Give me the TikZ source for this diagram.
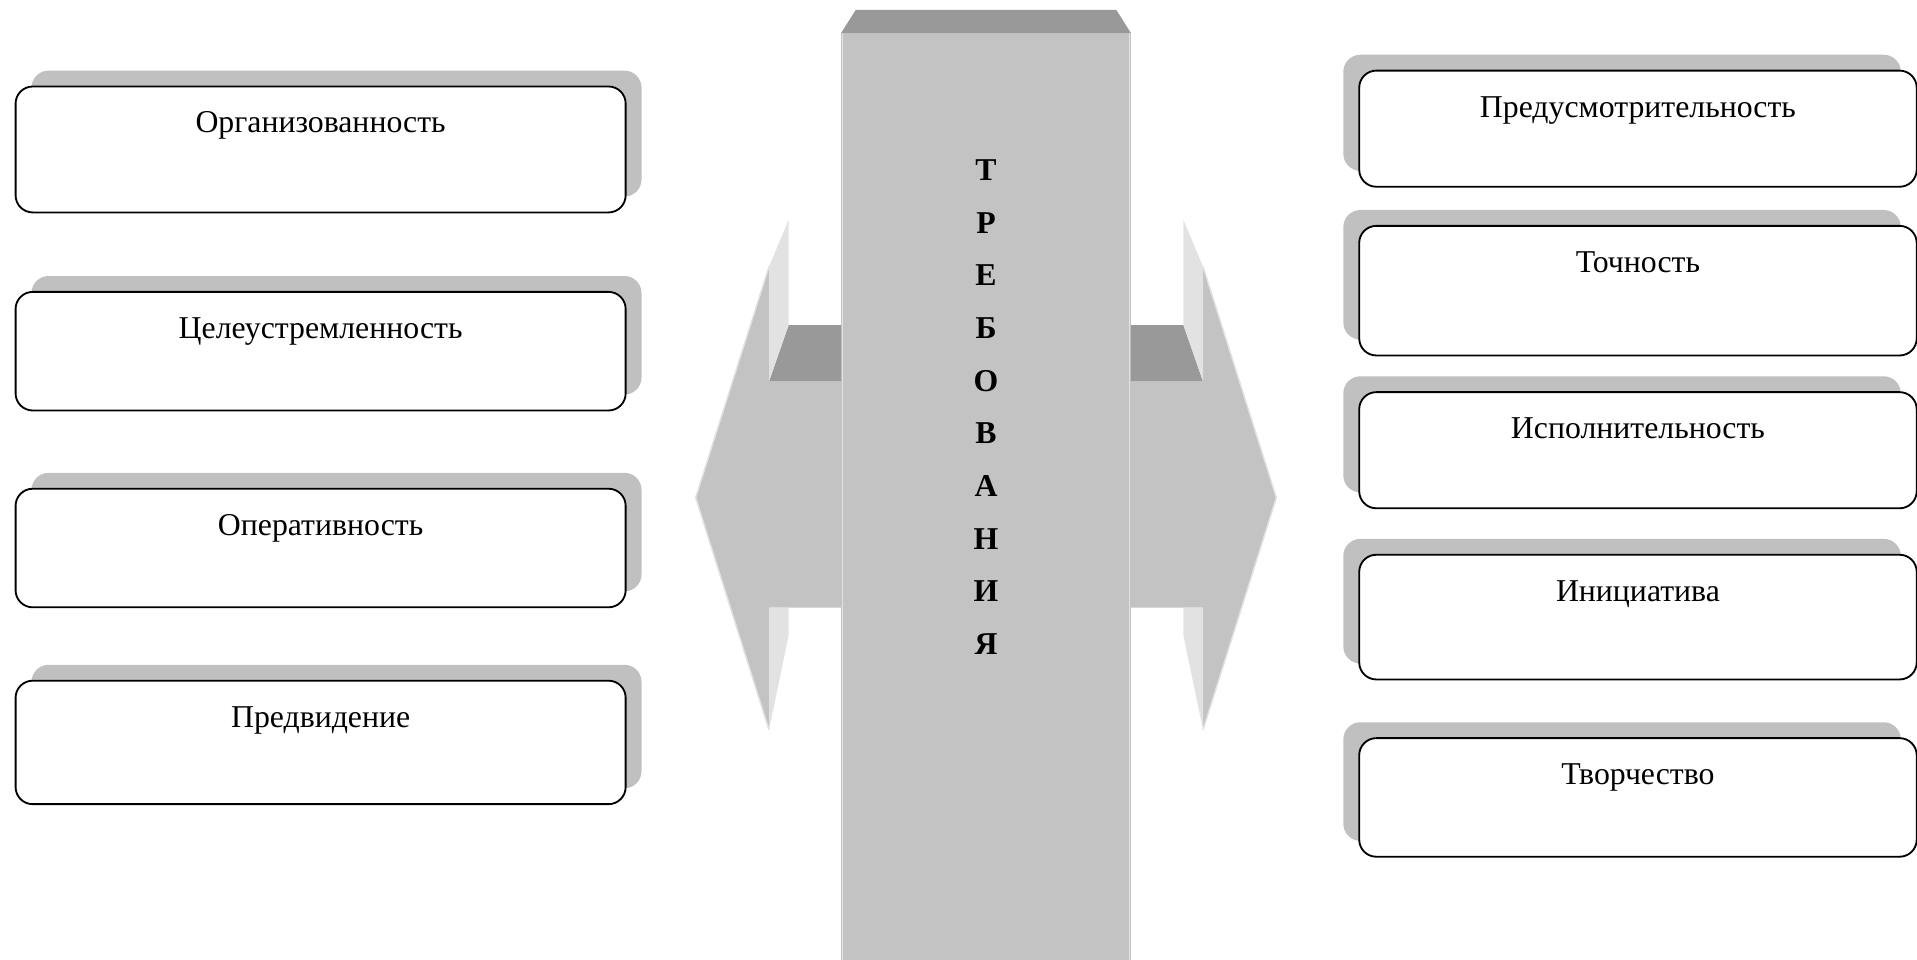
\documentclass[tikz,border=0pt]{standalone}
\usepackage{fontspec}
\setmainfont{Liberation Serif}
\usetikzlibrary{shadows}
\definecolor{shaft}{HTML}{C3C3C3}
\definecolor{recess}{HTML}{999999}
\definecolor{panel}{HTML}{E2E2E2}
\definecolor{shade}{HTML}{C0C0C0}

\begin{document}
\begin{tikzpicture}[
  x=1pt,y=-1pt,
  font=\fontsize{26}{30}\selectfont,
  qbox/.style={draw=black,line width=1.5pt,rounded corners=14pt,fill=white,inner ysep=0pt,text height=38pt,text depth=#1,anchor=north west},
  lbox/.style={qbox=#1,minimum width=499pt,drop shadow={shadow xshift=13pt,shadow yshift=13pt,fill=shade,opacity=1}},
  rbox/.style={qbox=#1,minimum width=456pt,drop shadow={shadow xshift=-13pt,shadow yshift=13pt,fill=shade,opacity=1}},
  letter/.style={font=\fontsize{26}{30}\selectfont\bfseries,inner sep=0pt},
  rim/.style={panel,line width=1.2pt}]
\useasboundingbox (0,0) rectangle (1568,785);
% arrow heads
\fill[shaft] (629,218) -- (569,407) -- (629,597) -- (629,497) -- (688,497) -- (688,312) -- (629,312) -- cycle;
\fill[shaft] (984,218) -- (1044,407) -- (984,597) -- (984,497) -- (925,497) -- (925,312) -- (984,312) -- cycle;
\draw[rim] (629,218) -- (569,407) -- (629,597);
\draw[rim] (984,218) -- (1044,407) -- (984,597);
% shaft and cap
\fill[shaft] (688,27) rectangle (925,785);
\draw[rim] (689,27) -- (689,785) (924,27) -- (924,785);
\fill[recess] (700,8) -- (913,8) -- (925,27) -- (688,27) -- cycle;
% recesses and side panels
\fill[recess] (645,266) -- (688,266) -- (688,312) -- (629,312) -- cycle;
\fill[recess] (968,266) -- (925,266) -- (925,312) -- (984,312) -- cycle;
\fill[panel] (629,218) -- (645,180) -- (645,266) -- (629,312) -- cycle;
\fill[panel] (984,218) -- (968,180) -- (968,266) -- (984,312) -- cycle;
\fill[panel] (629,497) -- (645,497) -- (645,520) -- (629,597) -- cycle;
\fill[panel] (984,497) -- (968,497) -- (968,520) -- (984,597) -- cycle;
% vertical word
\foreach \ch [count=\i from 0] in {Т,Р,Е,Б,О,В,А,Н,И,Я}
  \node[letter] (t\i) at (806.5,{139+43.1*\i}) {\ch};
% left column
\node[lbox=65pt] (org) at (12,70) {Организованность};
\node[lbox=59pt] (celeu) at (12,238) {Целеустремленность};
\node[lbox=59pt] (oper) at (12,399) {Оперативность};
\node[lbox=63pt] (predv) at (12,556) {Предвидение};
% right column
\node[rbox=57pt] (predus) at (1111,57) {Предусмотрительность};
\node[rbox=68pt] (toch) at (1111,184) {Точность};
\node[rbox=57pt] (ispol) at (1111,320) {Исполнительность};
\node[rbox=64pt] (inic) at (1111,453) {Инициатива};
\node[rbox=59pt] (tvor) at (1111,603) {Творчество};
\end{tikzpicture}
\end{document}
